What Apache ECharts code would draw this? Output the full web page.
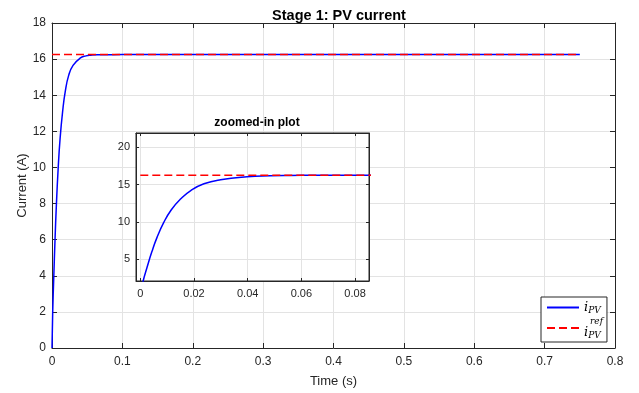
<!DOCTYPE html>
<html><head><meta charset="utf-8">
<script src="https://cdn.jsdelivr.net/npm/echarts@6/dist/echarts.min.js"></script>
<style>html,body{margin:0;padding:0;background:#fff}#c{width:639px;height:393px}</style>
</head><body><div id="c"></div>
<script>
// ---- data ----
const timeS = [0, 0.001, 0.0025, 0.0043, 0.0062, 0.0087, 0.0115, 0.0151, 0.0188, 0.0237, 0.0299, 0.0398, 0.0484, 0.0558, 0.065, 0.08, 0.1, 0.2, 0.3, 0.4, 0.5, 0.6, 0.7, 0.75];
const iPV    = [0, 2.0, 3.9, 6.0, 7.9, 9.9, 11.6, 13.1, 14.2, 15.1, 15.65, 16.05, 16.18, 16.22, 16.24, 16.245, 16.25, 16.25, 16.25, 16.25, 16.25, 16.25, 16.25, 16.25];
const refTime = [0, 0.75];
const iPVref  = [16.25, 16.25];
const seriesNames = ['iPV', 'iPVref'];
const mainXTicks = {min: 0, max: 0.8, interval: 0.1};
const mainYTicks = {min: 0, max: 18, interval: 2};
const insetXTickValues = [0, 0.02, 0.04, 0.06, 0.08];
const insetYTickValues = [5, 10, 15, 20];
const insetXRange = [-0.0016, 0.0852];
const insetYRange = [2.1, 21.9];

const pv = timeS.map((t, i) => [t, iPV[i]]);
const ref = refTime.map((t, i) => [t, iPVref[i]]);

const axisCol = '#262626';
const gridCol = '#e3e3e3';
const font = 'Liberation Sans, Arial, Helvetica, sans-serif';

function boxAxis(extra) {
  return Object.assign({
    axisLine: {show: true, onZero: false, lineStyle: {color: axisCol, width: 1}},
    axisTick: {show: true, inside: true, length: 5, lineStyle: {color: axisCol}},
    axisLabel: {show: false},
    splitLine: {show: false}
  }, extra);
}

const chart = echarts.init(document.getElementById('c'), null, {renderer: 'canvas'});
chart.setOption({
  animation: false,
  backgroundColor: '#fff',
  title: [
    {text: 'Stage 1: PV current', left: 334, top: 3, textAlign: 'center',
     textStyle: {fontFamily: font, fontSize: 14.5, fontWeight: 'bold', color: '#000'}},
    {text: 'zoomed-in plot', left: 252, top: 112, textAlign: 'center',
     textStyle: {fontFamily: font, fontSize: 12, fontWeight: 'bold', color: '#000'}}
  ],
  grid: [
    {left: 52, right: 24, top: 23, bottom: 43, show: false},
    {left: 136, top: 133, width: 233, height: 148, show: true, backgroundColor: '#fff',
     borderColor: axisCol, borderWidth: 1, z: 3}
  ],
  xAxis: [
    {type: 'value', gridIndex: 0, min: mainXTicks.min, max: mainXTicks.max, interval: mainXTicks.interval,
     name: 'Time (s)', nameLocation: 'middle', nameGap: 27,
     nameTextStyle: {fontFamily: font, fontSize: 13, color: axisCol},
     axisLine: {onZero: false, lineStyle: {color: axisCol}},
     axisTick: {inside: true, length: 5, lineStyle: {color: axisCol}},
     axisLabel: {fontFamily: font, fontSize: 12, color: axisCol, margin: 8},
     splitLine: {show: true, lineStyle: {color: gridCol, width: 1}}},
    boxAxis({type: 'value', gridIndex: 0, position: 'top', min: mainXTicks.min, max: mainXTicks.max, interval: mainXTicks.interval}),
    {type: 'value', gridIndex: 1, min: insetXRange[0], max: insetXRange[1], z: 4,
     axisLine: {onZero: false, lineStyle: {color: axisCol}},
     axisTick: {inside: true, length: 3, lineStyle: {color: axisCol}, customValues: insetXTickValues},
     axisLabel: {fontFamily: font, fontSize: 11, color: axisCol, margin: 7, customValues: insetXTickValues,
       formatter: v => String(+v.toFixed(2))},
     splitLine: {show: true, lineStyle: {color: gridCol}}},
    boxAxis({type: 'value', gridIndex: 1, position: 'top', min: insetXRange[0], max: insetXRange[1], z: 4,
      axisTick: {show: true, inside: true, length: 3, lineStyle: {color: axisCol}, customValues: insetXTickValues}})
  ],
  yAxis: [
    {type: 'value', gridIndex: 0, min: mainYTicks.min, max: mainYTicks.max, interval: mainYTicks.interval,
     name: 'Current (A)', nameLocation: 'middle', nameGap: 23, nameRotate: 90, nameMoveOverlap: false,
     nameTextStyle: {fontFamily: font, fontSize: 13, color: axisCol},
     axisLine: {show: true, onZero: false, lineStyle: {color: axisCol}},
     axisTick: {show: true, inside: true, length: 5, lineStyle: {color: axisCol}},
     axisLabel: {fontFamily: font, fontSize: 12, color: axisCol, margin: 6},
     splitLine: {show: true, lineStyle: {color: gridCol, width: 1}}},
    boxAxis({type: 'value', gridIndex: 0, position: 'right', min: mainYTicks.min, max: mainYTicks.max, interval: mainYTicks.interval}),
    {type: 'value', gridIndex: 1, min: insetYRange[0], max: insetYRange[1], z: 4,
     axisLine: {show: true, onZero: false, lineStyle: {color: axisCol}},
     axisTick: {show: true, inside: true, length: 3, lineStyle: {color: axisCol}, customValues: insetYTickValues},
     axisLabel: {fontFamily: font, fontSize: 11, color: axisCol, margin: 6, customValues: insetYTickValues},
     splitLine: {show: true, lineStyle: {color: gridCol}}},
    boxAxis({type: 'value', gridIndex: 1, position: 'right', min: insetYRange[0], max: insetYRange[1], z: 4,
      axisTick: {show: true, inside: true, length: 3, lineStyle: {color: axisCol}, customValues: insetYTickValues}})
  ],
  legend: {
    orient: 'vertical', left: 541, top: 297, data: seriesNames,
    backgroundColor: '#fff', borderColor: axisCol, borderWidth: 1, borderRadius: 0,
    padding: [3, 4, 2, 5], itemWidth: 32, itemHeight: 10, itemGap: 2,
    itemStyle: {opacity: 0},
    formatter: function (name) {
      return name === 'iPV' ? '{i|i}{sub|PV}' : '{sup|ref}\n{i|i}{sub|PV}';
    },
    textStyle: {
      rich: {
        i: {fontFamily: 'DejaVu Serif, serif', fontStyle: 'italic', fontSize: 13, color: '#000', lineHeight: 13},
        sub: {fontFamily: 'DejaVu Serif, serif', fontStyle: 'italic', fontSize: 9, color: '#000', padding: [6, 0, 0, 0], lineHeight: 13},
        sup: {fontFamily: 'DejaVu Serif, serif', fontStyle: 'italic', fontSize: 9, color: '#000', padding: [0, 0, 0, 6], lineHeight: 9}
      }
    }
  },
  series: [
    {name: 'iPV', type: 'line', xAxisIndex: 0, yAxisIndex: 0, data: pv, showSymbol: false, symbol: 'none',
     smooth: 0.5, lineStyle: {color: '#0000ff', width: 1.5}, itemStyle: {color: '#0000ff'}, z: 2},
    {name: 'iPVref', type: 'line', xAxisIndex: 0, yAxisIndex: 0, data: ref, showSymbol: false, symbol: 'none',
     lineStyle: {color: '#ff0000', width: 1.5, type: [8, 4]}, itemStyle: {color: '#ff0000'}, z: 3},
    {name: 'iPV', type: 'line', xAxisIndex: 2, yAxisIndex: 2, data: pv, showSymbol: false, symbol: 'none',
     smooth: 0.5, clip: true, lineStyle: {color: '#0000ff', width: 1.5}, z: 5},
    {name: 'iPVref', type: 'line', xAxisIndex: 2, yAxisIndex: 2, data: ref, showSymbol: false, symbol: 'none',
     clip: true, lineStyle: {color: '#ff0000', width: 1.5, type: [8, 4]}, z: 6}
  ]
});
</script></body></html>
